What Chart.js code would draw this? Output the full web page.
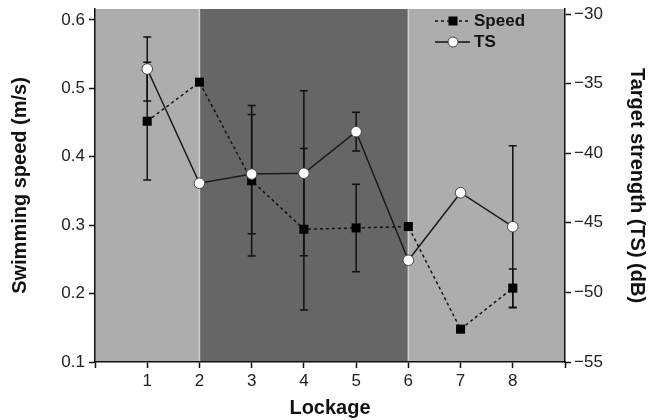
<!DOCTYPE html>
<html>
<head>
<meta charset="utf-8">
<script src="https://cdn.jsdelivr.net/npm/chart.js@4.4.1/dist/chart.umd.min.js"></script>
<style>
  html, body { margin: 0; padding: 0; background: #fff; }
</style>
</head>
<body>
<canvas id="chart" width="659" height="420"></canvas>
<script>
// Datos
const lockage = [1, 2, 3, 4, 5, 6, 7, 8];
const speed = [0.452, 0.509, 0.365, 0.294, 0.296, 0.298, 0.148, 0.208];
const speedErr = [0.086, 0, 0.110, 0.118, 0.064, 0, 0, 0.028];
const ts = [-33.95, -42.16, -41.5, -41.44, -38.45, -47.69, -42.84, -45.28];
const tsErr = [2.3, 0, 4.28, 5.93, 1.39, 0, 0, 5.82];
const xTicks = [0, 1, 2, 3, 4, 5, 6, 7, 8, 9];
const speedTicks = [0.1, 0.2, 0.3, 0.4, 0.5, 0.6];
const tsTicks = [-55, -50, -45, -40, -35, -30];
// periodos de fondo: [desde, hasta]
const bands = [[0, 2], [2, 6], [6, 9]];

const FONT = "'Liberation Sans', Arial, sans-serif";

// Fondo gris por tramos
const bandPlugin = {
  id: 'bands',
  beforeDraw(chart) {
    const {ctx, chartArea, scales} = chart;
    const x = scales.x;
    const fills = ['#adadad', '#666666', '#adadad'];
    ctx.save();
    bands.forEach((b, i) => {
      const x0 = x.getPixelForValue(b[0]);
      const x1 = x.getPixelForValue(b[1]);
      ctx.fillStyle = fills[i];
      ctx.fillRect(x0, chartArea.top, x1 - x0, chartArea.bottom - chartArea.top);
    });
    ctx.strokeStyle = '#d0d0d0';
    ctx.lineWidth = 1.5;
    [bands[1][0], bands[1][1]].forEach(v => {
      const px = x.getPixelForValue(v);
      ctx.beginPath();
      ctx.moveTo(px, chartArea.top);
      ctx.lineTo(px, chartArea.bottom);
      ctx.stroke();
    });
    ctx.restore();
  }
};

// Barras de error
const errorPlugin = {
  id: 'errorBars',
  beforeDatasetsDraw(chart) {
    const {ctx, scales} = chart;
    const sets = [[speed, speedErr, scales.y], [ts, tsErr, scales.y1]];
    ctx.save();
    ctx.strokeStyle = '#111';
    ctx.lineWidth = 1.5;
    sets.forEach(([vals, errs, ys]) => {
      vals.forEach((v, i) => {
        if (!errs[i]) return;
        const px = scales.x.getPixelForValue(lockage[i]);
        const top = ys.getPixelForValue(v + errs[i]);
        const bot = ys.getPixelForValue(v - errs[i]);
        ctx.beginPath();
        ctx.moveTo(px, top); ctx.lineTo(px, bot);
        ctx.moveTo(px - 4, top); ctx.lineTo(px + 4, top);
        ctx.moveTo(px - 4, bot); ctx.lineTo(px + 4, bot);
        ctx.stroke();
      });
    });
    ctx.restore();
  }
};

// Leyenda dentro del gráfico
const legendPlugin = {
  id: 'miniLegend',
  afterDraw(chart) {
    const ctx = chart.ctx;
    const rows = [
      {label: chart.data.datasets[0].label, dash: [3, 3], y: 21, type: 'rect'},
      {label: chart.data.datasets[1].label, dash: [], y: 42, type: 'circle'}
    ];
    ctx.save();
    rows.forEach(r => {
      ctx.strokeStyle = '#111';
      ctx.lineWidth = 1.5;
      ctx.setLineDash(r.dash);
      ctx.beginPath();
      ctx.moveTo(435, r.y); ctx.lineTo(470, r.y);
      ctx.stroke();
      ctx.setLineDash([]);
      if (r.type === 'rect') {
        ctx.fillStyle = '#000';
        ctx.fillRect(448.5, r.y - 4.5, 9, 9);
      } else {
        ctx.beginPath();
        ctx.arc(453, r.y, 5, 0, Math.PI * 2);
        ctx.fillStyle = '#fff';
        ctx.fill();
        ctx.strokeStyle = '#444';
        ctx.lineWidth = 1;
        ctx.stroke();
      }
      ctx.fillStyle = '#111';
      ctx.font = 'bold 17px ' + FONT;
      ctx.textBaseline = 'middle';
      ctx.fillText(r.label, 474, r.y);
    });
    ctx.restore();
  }
};

const minus = v => String(v).replace('-', '\u2212');

// ancho fijo de ejes y sin relleno extra por etiquetas
const fixY = w => s => { s.width = w; s.paddingTop = 0; s.paddingBottom = 0; };

const ctx = document.getElementById('chart').getContext('2d');
new Chart(ctx, {
  type: 'line',
  data: {
    datasets: [
      {
        label: 'Speed',
        data: lockage.map((x, i) => ({x, y: speed[i]})),
        yAxisID: 'y',
        borderColor: '#111',
        borderWidth: 1.5,
        borderDash: [3, 3],
        pointStyle: 'rect',
        pointRadius: 6.4,
        pointBackgroundColor: '#000',
        pointBorderColor: '#000',
        pointBorderWidth: 0,
        order: 2
      },
      {
        label: 'TS',
        data: lockage.map((x, i) => ({x, y: ts[i]})),
        yAxisID: 'y1',
        borderColor: '#1a1a1a',
        borderWidth: 1.5,
        pointStyle: 'circle',
        pointRadius: 5.3,
        pointBackgroundColor: '#fff',
        pointBorderColor: '#444',
        pointBorderWidth: 1,
        order: 1
      }
    ]
  },
  options: {
    responsive: false,
    animation: false,
    layout: { padding: { top: 9, left: 0, right: 0, bottom: 0 } },
    plugins: { legend: { display: false }, tooltip: { enabled: false } },
    scales: {
      x: {
        type: 'linear',
        min: 0, max: 9,
        afterBuildTicks: s => { s.ticks = xTicks.map(v => ({value: v})); },
        afterFit: s => { s.height = 58; s.paddingLeft = 0; s.paddingRight = 0; },
        ticks: {
          color: '#222', padding: 3, maxRotation: 0,
          font: { family: FONT, size: 17 },
          callback: v => lockage.includes(v) ? v : ''
        },
        grid: { drawOnChartArea: false, color: '#111', tickLength: 6, tickWidth: 1.5 },
        border: { color: '#111', width: 1.5 },
        title: { display: true, text: 'Lockage', color: '#111', padding: { top: 0, bottom: 0 },
                 font: { family: FONT, size: 20, weight: 'bold' } }
      },
      y: {
        position: 'left',
        min: 0.1, max: 0.616,
        afterBuildTicks: s => { s.ticks = speedTicks.map(v => ({value: v})); },
        afterFit: fixY(95),
        ticks: { color: '#222', padding: 4, font: { family: FONT, size: 17 }, callback: v => v.toFixed(1) },
        grid: { drawOnChartArea: false, color: '#111', tickLength: 6, tickWidth: 1.5 },
        border: { color: '#111', width: 1.5 },
        title: { display: true, text: 'Swimming speed (m/s)', color: '#111', padding: { top: 8, bottom: 0 },
                 font: { family: FONT, size: 20, weight: 'bold' } }
      },
      y1: {
        position: 'right',
        min: -55, max: -29.64,
        afterBuildTicks: s => { s.ticks = tsTicks.map(v => ({value: v})); },
        afterFit: fixY(94),
        ticks: { color: '#222', padding: 3, font: { family: FONT, size: 17 }, callback: v => minus(v) },
        grid: { drawOnChartArea: false, color: '#111', tickLength: 6, tickWidth: 1.5 },
        border: { color: '#111', width: 1.5 },
        title: { display: true, text: 'Target strength (TS) (dB)', color: '#111', padding: { top: 10, bottom: 0 },
                 font: { family: FONT, size: 20, weight: 'bold' } }
      }
    }
  },
  plugins: [bandPlugin, errorPlugin, legendPlugin]
});
</script>
</body>
</html>
